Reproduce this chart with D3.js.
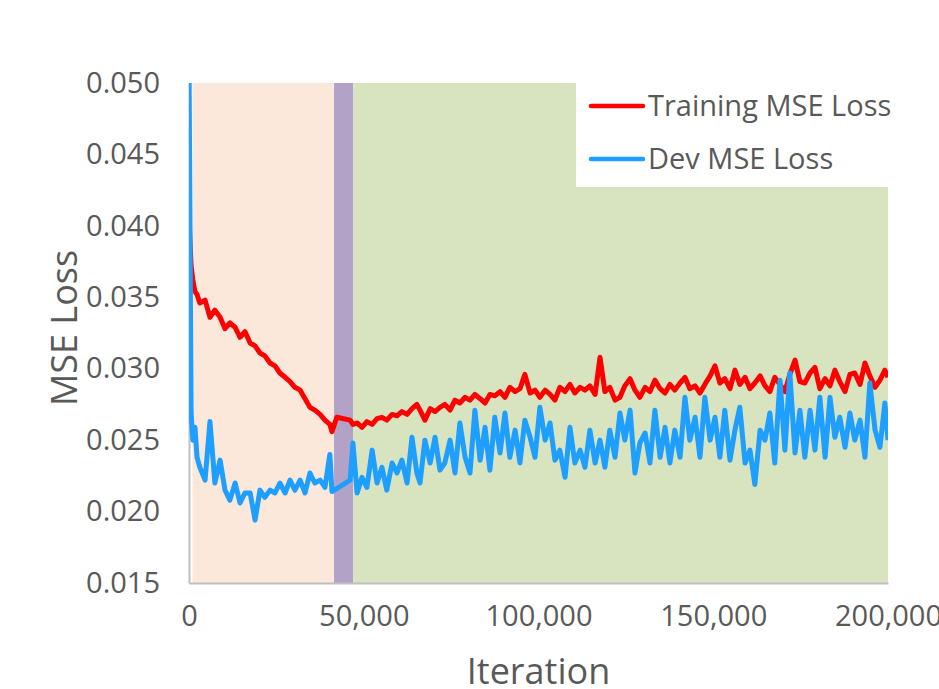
<!DOCTYPE html>
<html>
<head>
<meta charset="utf-8">
<script src="https://cdn.jsdelivr.net/npm/d3@7"></script>
<style>
  body { margin: 0; background: white; font-family: "Open Sans", "Noto Sans", sans-serif; }
  svg { display: block; }
  .tick text { fill: #595959; }
</style>
</head>
<body>
<svg id="chart"></svg>
<script>
// iterations in thousands, shared grid for both series
let iterK = [0, 0.6, 1.1, 1.7, 2.3, 3.1, 4.6, 6.0, 7.4, 8.9, 10.3, 11.7, 13.2, 14.6, 16.0, 17.5, 18.9, 20.3, 21.7, 23.2, 24.6,
  26.0, 27.5, 28.9, 30.3, 31.8, 33.2, 34.6, 36.0, 37.5, 38.9, 40.3, 40.9, 42.3, 46.1, 46.9, 48.1, 49.5, 50.9, 52.4, 53.8,
  55.2, 56.6, 58.1, 59.5, 60.9, 62.4, 63.8, 65.2, 66.1, 67.5, 69.0, 70.4, 71.8, 73.2, 74.7, 76.1, 77.5, 79.0, 80.4, 81.8,
  83.3, 84.7, 86.1, 87.5, 89.0, 90.4, 91.8, 93.3, 94.7, 96.1, 97.6, 99.0, 100.4, 101.9, 103.3, 104.7, 106.1, 107.6, 109.0,
  110.4, 111.9, 113.3, 114.7, 116.2, 117.6, 119.0, 120.4, 121.9, 123.3, 124.7, 126.2, 127.6, 129.0, 130.5, 131.9, 133.3,
  134.8, 136.2, 137.6, 139.0, 140.5, 141.9, 143.3, 144.8, 146.2, 147.6, 149.1, 150.5, 151.9, 153.3, 154.8, 156.2, 157.6,
  159.1, 160.5, 161.9, 163.4, 164.8, 166.2, 167.6, 169.1, 170.5, 171.9, 173.4, 174.8, 176.2, 177.7, 179.1, 180.5, 182.0,
  183.4, 184.8, 186.2, 187.7, 189.1, 190.5, 192.0, 193.4, 194.8, 196.3, 197.7, 199.1, 200.0]

let trainLoss = [0.0405, 0.0372, 0.0362, 0.0354, 0.0352, 0.0346, 0.0348, 0.0336, 0.0341, 0.0336, 0.0328, 0.0332, 0.0329, 0.0322, 0.0326, 0.0318, 0.0316, 0.0311, 0.0309, 0.0304, 0.0302,
  0.0297, 0.0294, 0.0291, 0.0287, 0.0285, 0.0279, 0.0273, 0.0271, 0.0268, 0.0264, 0.0261, 0.0256, 0.0266, 0.0264, 0.0261, 0.0262, 0.0259, 0.0263, 0.0261, 0.0265,
  0.0266, 0.0264, 0.0268, 0.0267, 0.0270, 0.0268, 0.0272, 0.0275, 0.0271, 0.0264, 0.0272, 0.0270, 0.0273, 0.0275, 0.0271, 0.0278, 0.0276, 0.0280, 0.0278, 0.0282,
  0.0279, 0.0276, 0.0282, 0.0281, 0.0284, 0.0280, 0.0287, 0.0284, 0.0286, 0.0296, 0.0283, 0.0285, 0.0280, 0.0285, 0.0282, 0.0278, 0.0287, 0.0284, 0.0289,
  0.0283, 0.0287, 0.0285, 0.0288, 0.0282, 0.0308, 0.0284, 0.0287, 0.0278, 0.0280, 0.0288, 0.0293, 0.0285, 0.0280, 0.0287, 0.0284, 0.0292,
  0.0286, 0.0283, 0.0289, 0.0285, 0.0290, 0.0294, 0.0286, 0.0288, 0.0283, 0.0289, 0.0295, 0.0302, 0.0290, 0.0293, 0.0286, 0.0299, 0.0289,
  0.0294, 0.0286, 0.0290, 0.0295, 0.0288, 0.0284, 0.0294, 0.0289, 0.0284, 0.0296, 0.0306, 0.0291, 0.0290, 0.0297, 0.0301, 0.0286, 0.0293,
  0.0288, 0.0299, 0.0291, 0.0284, 0.0296, 0.0297, 0.0289, 0.0304, 0.0295, 0.0287, 0.0292, 0.0299, 0.0294]

// dev loss has no reading at 42.3k (null)
let devLoss = [0.0520, 0.0269, 0.0250, 0.0259, 0.0238, 0.0231, 0.0222, 0.0263, 0.0220, 0.0236, 0.0215, 0.0208, 0.0220, 0.0206, 0.0213, 0.0213, 0.0194, 0.0215, 0.0210, 0.0215, 0.0213,
  0.0220, 0.0213, 0.0222, 0.0215, 0.0222, 0.0213, 0.0227, 0.0220, 0.0222, 0.0217, 0.0240, 0.0214, null, 0.0222, 0.0248, 0.0213, 0.0224, 0.0217, 0.0243, 0.0220,
  0.0231, 0.0215, 0.0234, 0.0227, 0.0236, 0.0220, 0.0252, 0.0227, 0.0220, 0.0250, 0.0234, 0.0252, 0.0229, 0.0234, 0.0250, 0.0227, 0.0262, 0.0238, 0.0227, 0.0271,
  0.0236, 0.0259, 0.0229, 0.0266, 0.0241, 0.0269, 0.0238, 0.0257, 0.0234, 0.0264, 0.0252, 0.0238, 0.0273, 0.0250, 0.0262, 0.0236, 0.0243, 0.0224, 0.0259,
  0.0234, 0.0243, 0.0231, 0.0257, 0.0234, 0.0250, 0.0231, 0.0257, 0.0238, 0.0269, 0.0250, 0.0271, 0.0227, 0.0248, 0.0255, 0.0234, 0.0271,
  0.0238, 0.0259, 0.0234, 0.0257, 0.0238, 0.0280, 0.0250, 0.0266, 0.0238, 0.0280, 0.0250, 0.0266, 0.0238, 0.0271, 0.0236, 0.0257, 0.0273,
  0.0234, 0.0243, 0.0219, 0.0257, 0.0250, 0.0269, 0.0234, 0.0292, 0.0243, 0.0297, 0.0241, 0.0271, 0.0238, 0.0271, 0.0243, 0.0280, 0.0238,
  0.0280, 0.0252, 0.0266, 0.0245, 0.0269, 0.0250, 0.0264, 0.0238, 0.0290, 0.0257, 0.0245, 0.0276, 0.0250]

// shaded phases, iterations
let phaseStart = [1000, 41500, 47000]
let phaseEnd = [41500, 47000, 200000]
let phaseColors = ["#fce8da", "#b2a2c7", "#d8e4bf"]

let xTicks = [0, 50000, 100000, 150000, 200000]
let yTicks = [0.015, 0.020, 0.025, 0.030, 0.035, 0.040, 0.045, 0.050]

let seriesNames = ["Training MSE Loss", "Dev MSE Loss"]
let seriesColors = ["#ff0000", "#1e9eff"]

let width = 939, height = 689
let margin = { top: 83, left: 189, right: 51, bottom: 106 }
let bodyWidth = width - margin.left - margin.right
let bodyHeight = height - margin.top - margin.bottom

let svg = d3.select("#chart").attr("width", width).attr("height", height)

let xScale = d3.scaleLinear().domain([0, 200000]).range([0, bodyWidth])
let yScale = d3.scaleLinear().domain([0.015, 0.050]).range([bodyHeight, 0])

svg.append("defs").append("clipPath").attr("id", "plotClip")
  .append("rect").attr("width", bodyWidth).attr("height", bodyHeight)

let body = svg.append("g").attr("transform", `translate(${margin.left},${margin.top})`)

// phase bands
body.selectAll(".phase").data(phaseStart).enter().append("rect")
  .attr("x", (d) => xScale(d))
  .attr("width", (d, i) => xScale(phaseEnd[i]) - xScale(d))
  .attr("y", 0)
  .attr("height", bodyHeight)
  .attr("fill", (d, i) => phaseColors[i])

// legend box covers the top right of the plot
let legendX = 387, legendH = 104
body.append("rect")
  .attr("x", legendX).attr("y", 0)
  .attr("width", bodyWidth - legendX).attr("height", legendH)
  .attr("fill", "white")

// axes
let axisY = d3.axisLeft(yScale).tickValues(yTicks).tickFormat(d3.format(".3f")).tickSize(0).tickPadding(29)
let gy = body.append("g").call(axisY)
gy.select(".domain").attr("stroke", "#bfbfbf").attr("stroke-width", 2)
gy.selectAll("text").attr("font-size", 29).attr("font-family", "Open Sans")

let axisX = d3.axisBottom(xScale).tickValues(xTicks).tickFormat(d3.format(",")).tickSize(0).tickPadding(22)
let gx = body.append("g").attr("transform", `translate(0,${bodyHeight})`).call(axisX)
gx.select(".domain").attr("stroke", "#bfbfbf").attr("stroke-width", 2)
gx.selectAll("text").attr("font-size", 29).attr("font-family", "Open Sans")

// lines
let points = (vals) => iterK.map((k, i) => [k * 1000, vals[i]]).filter(p => p[1] !== null)
let line = d3.line().x(p => xScale(p[0])).y(p => yScale(p[1]))

let lines = body.append("g").attr("clip-path", "url(#plotClip)")
lines.append("path").datum(points(trainLoss))
  .attr("d", line).attr("fill", "none")
  .attr("stroke", seriesColors[0]).attr("stroke-width", 5).attr("stroke-linejoin", "round")
lines.append("path").datum(points(devLoss))
  .attr("d", line).attr("fill", "none")
  .attr("stroke", seriesColors[1]).attr("stroke-width", 5).attr("stroke-linejoin", "round")

// legend
let legend = body.selectAll(".legend").data(seriesNames).enter().append("g")
  .attr("transform", (d, i) => `translate(${402},${23 + i * 53})`)
legend.append("line").attr("x1", 0).attr("x2", 52)
  .attr("stroke", (d, i) => seriesColors[i]).attr("stroke-width", 4.5).attr("stroke-linecap", "round")
legend.append("text").attr("x", 57).attr("dy", "0.35em")
  .attr("fill", "#595959").attr("font-size", 29).attr("font-family", "Open Sans")
  .text(d => d)

// axis titles
svg.append("text")
  .attr("x", margin.left + bodyWidth / 2).attr("y", 684)
  .attr("text-anchor", "middle").attr("fill", "#595959")
  .attr("font-size", 36).attr("font-family", "Open Sans")
  .text("Iteration")

svg.append("text")
  .attr("transform", `translate(77,${margin.top + bodyHeight / 2 - 5}) rotate(-90)`)
  .attr("text-anchor", "middle").attr("fill", "#595959")
  .attr("font-size", 36).attr("font-family", "Open Sans")
  .text("MSE Loss")
</script>
</body>
</html>
